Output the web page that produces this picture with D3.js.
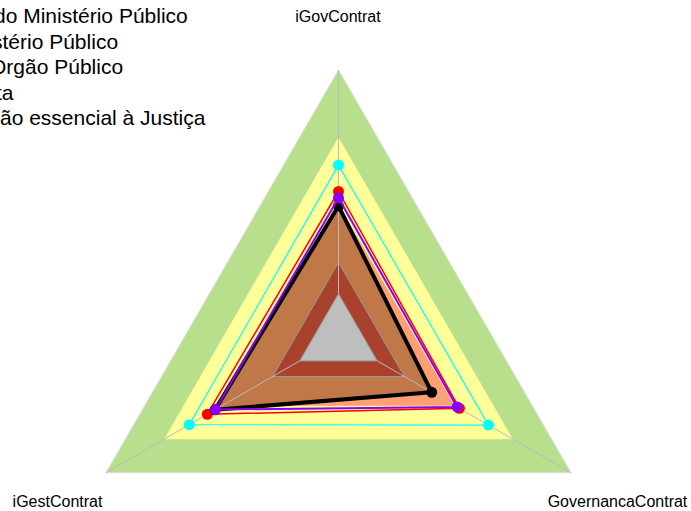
<!DOCTYPE html>
<html>
<head>
<meta charset="utf-8">
<script src="https://cdn.jsdelivr.net/npm/d3@7"></script>
<style>
  body { margin: 0; background: #fff; }
  text { font-family: "Liberation Sans", Arial, sans-serif; }
</style>
</head>
<body>
<svg id="chart" width="691" height="511"></svg>
<script>
// axes, top then counter-clockwise
var axes = ["iGovContrat", "iGestContrat", "GovernancaContrat"];

// background bands (value reached on every axis)
var bandLevels = [1.0, 0.70, 0.40, 0.14, 0];
var bandColors = ["#B8E08C", "#FFFF99", "#FFA072", "#A8422C", "#BEBEBE"];

// series (values on 0..1 scale, one per axis)
var seriesNames = ["cyan", "red", "black", "purple"];
var seriesColors = ["#00FFFF", "#FF0000", "#000000", "#8A00FF"];
var seriesWidths = [1.2, 1.5, 4, 2];
var cyanValues = [0.575, 0.570, 0.574];
var redValues = [0.457, 0.477, 0.424];
var blackValues = [0.392, 0.437, 0.281];
var purpleValues = [0.428, 0.435, 0.412];
var seriesValues = [cyanValues, redValues, blackValues, purpleValues];
var blackFill = "#C07848";

// legend (left part is cut off by the plot border)
var legendLabels = ["do Ministério Público", "stério Público", "Orgão Público", "ta", "ão essencial à Justiça"];
var legendX = [-6, -8, -10, -4, 0];

var svg = d3.select("#chart");
var cx = 338.5, cy = 338.5, R = 268.5;

// fmsb-like: minimum sits at 1/6 of the radius
var r = d3.scaleLinear().domain([0, 1]).range([R / 6, R]);
var angle = d3.scaleOrdinal().domain(axes).range([-Math.PI / 2, Math.PI * 5 / 6, Math.PI / 6]);

function pt(v, i) {
  var a = angle(axes[i]);
  return [cx + r(v) * Math.cos(a), cy + r(v) * Math.sin(a)];
}
var line = d3.line().curve(d3.curveLinearClosed);

function poly(vals) { return line(vals.map(pt)); }

// bands down to the salmon one
for (var b = 0; b < 3; b++) {
  svg.append("path")
    .attr("d", poly(axes.map(function(){ return bandLevels[b]; })))
    .attr("fill", bandColors[b])
    .attr("stroke", b == 0 ? "#dddddd" : "none")
    .attr("stroke-width", 1);
}

// area of the black series
svg.append("path")
  .attr("d", poly(blackValues))
  .attr("fill", blackFill);

// inner bands
for (var b = 3; b < bandLevels.length; b++) {
  svg.append("path")
    .attr("d", poly(axes.map(function(){ return bandLevels[b]; })))
    .attr("fill", bandColors[b])
    .attr("stroke", "#999999")
    .attr("stroke-width", 1);
}

// axis lines
axes.forEach(function(a, i){
  var p0 = pt(0, i), p1 = pt(1, i);
  svg.append("line")
    .attr("x1", p0[0]).attr("y1", p0[1])
    .attr("x2", p1[0]).attr("y2", p1[1])
    .attr("stroke", "#bbbbbb")
    .attr("stroke-width", 1);
});

// series lines and points
seriesValues.forEach(function(vals, s){
  svg.append("path")
    .attr("d", poly(vals))
    .attr("fill", "none")
    .attr("stroke", seriesColors[s])
    .attr("stroke-width", seriesWidths[s])
    .attr("stroke-linejoin", "miter");
  vals.forEach(function(v, i){
    var p = pt(v, i);
    svg.append("circle")
      .attr("cx", p[0]).attr("cy", p[1])
      .attr("r", 5.5)
      .attr("fill", seriesColors[s]);
  });
});

// axis labels
var labelPos = [[338, 22], [57.5, 507], [617.5, 507]];
axes.forEach(function(a, i){
  svg.append("text")
    .attr("x", labelPos[i][0]).attr("y", labelPos[i][1])
    .attr("text-anchor", "middle")
    .attr("font-size", 16)
    .attr("fill", "#000")
    .text(a);
});

// legend
legendLabels.forEach(function(t, i){
  svg.append("text")
    .attr("x", legendX[i])
    .attr("y", 23 + i * 25.5)
    .attr("font-size", 21)
    .attr("fill", "#000")
    .text(t);
});
</script>
</body>
</html>
